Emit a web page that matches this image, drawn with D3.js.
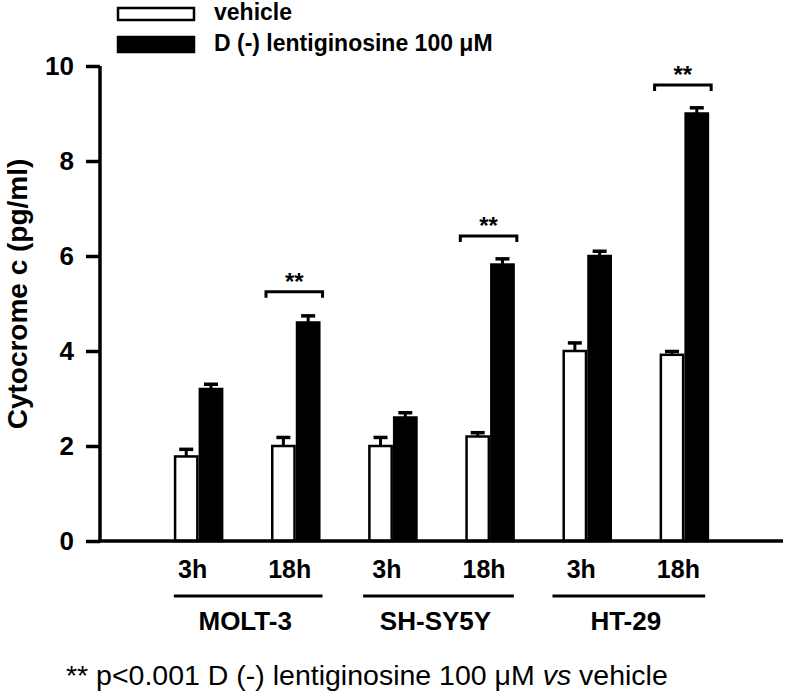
<!DOCTYPE html>
<html>
<head>
<meta charset="utf-8">
<script src="https://cdn.jsdelivr.net/npm/d3@7"></script>
<style>
  html, body { margin: 0; padding: 0; background: #fff; }
  svg { display: block; }
  text { font-family: "Liberation Sans", Arial, Helvetica, sans-serif; fill: #000; }
</style>
</head>
<body>
<svg id="chart" width="787" height="693"></svg>
<script>
// ---- data ----
const conditions = ["MOLT-3 3h", "MOLT-3 18h", "SH-SY5Y 3h", "SH-SY5Y 18h", "HT-29 3h", "HT-29 18h"];
const timeLabels = ["3h", "18h", "3h", "18h", "3h", "18h"];
const cellLines = ["MOLT-3", "SH-SY5Y", "HT-29"];
const seriesNames = ["vehicle", "D (-) lentiginosine 100 \u03bcM"];
const vehicleValues = [1.78, 2.0, 2.0, 2.2, 4.0, 3.92];
const vehicleErrors = [0.15, 0.18, 0.18, 0.08, 0.17, 0.07];
const lentiValues = [3.2, 4.6, 2.6, 5.82, 6.0, 9.0];
const lentiErrors = [0.1, 0.14, 0.1, 0.12, 0.1, 0.12];
const sigConditions = ["MOLT-3 18h", "SH-SY5Y 18h", "HT-29 18h"];
const sigLevels = [5.25, 6.42, 9.6];
const yTicks = [0, 2, 4, 6, 8, 10];

// ---- layout ----
const svg = d3.select("#chart");
const x0 = d3.scaleBand().domain(conditions).range([100, 783]).paddingInner(0.49).paddingOuter(0.76);
const x1 = d3.scaleBand().domain([0, 1]).range([0, x0.bandwidth()]).padding(0);
const y = d3.scaleLinear().domain([0, 10]).range([541, 66]);

const series = [
  { name: seriesNames[0], values: vehicleValues, errors: vehicleErrors, fill: "#fff" },
  { name: seriesNames[1], values: lentiValues, errors: lentiErrors, fill: "#000" }
];

// bars
series.forEach((s, si) => {
  const g = svg.append("g");
  conditions.forEach((c, i) => {
    const bx = x0(c) + x1(si);
    const bw = x1.bandwidth();
    const top = y(s.values[i]);
    const errTop = y(s.values[i] + s.errors[i]);
    g.append("line").attr("x1", bx + bw / 2).attr("x2", bx + bw / 2)
      .attr("y1", top).attr("y2", errTop).attr("stroke", "#000").attr("stroke-width", 3);
    g.append("line").attr("x1", bx + bw / 2 - 7).attr("x2", bx + bw / 2 + 7)
      .attr("y1", errTop).attr("y2", errTop).attr("stroke", "#000").attr("stroke-width", 3.5);
    g.append("rect").attr("x", bx + 1.25).attr("y", top)
      .attr("width", bw - 2.5).attr("height", y(0) - top)
      .attr("fill", s.fill).attr("stroke", "#000").attr("stroke-width", 2.5);
  });
});

// y axis
const yAxis = d3.axisLeft(y).tickValues(yTicks).tickSize(14).tickPadding(12).tickFormat(d3.format("d"));
const gy = svg.append("g").attr("transform", "translate(100,0)").call(yAxis);
gy.select(".domain").attr("d", `M0,${y(10)}V${y(0)}`).attr("stroke-width", 3.5);
gy.selectAll(".tick line").attr("stroke-width", 3.5);
gy.selectAll(".tick text").style("font-size", "26px").style("font-weight", "bold")
  .attr("font-family", null);

// x axis line
svg.append("line").attr("x1", 98).attr("x2", 783).attr("y1", y(0)).attr("y2", y(0))
  .attr("stroke", "#000").attr("stroke-width", 3.5);

// time labels
svg.append("g").selectAll("text").data(conditions).join("text")
  .attr("x", c => x0(c) + x0.bandwidth() / 2 - 6)
  .attr("y", 578)
  .attr("text-anchor", "middle")
  .style("font-size", "25px").style("font-weight", "bold")
  .text((c, i) => timeLabels[i]);

// cell line underline + labels
cellLines.forEach((cl, k) => {
  const a = conditions[k * 2], b = conditions[k * 2 + 1];
  const xs = x0(a) - 5 * k, xe = x0(b) + x0.bandwidth() + 2 - 3 * k;
  svg.append("line").attr("x1", xs).attr("x2", xe).attr("y1", 596).attr("y2", 596)
    .attr("stroke", "#000").attr("stroke-width", 3);
  svg.append("text").attr("x", (xs + xe) / 2 - 3).attr("y", 630)
    .attr("text-anchor", "middle").style("font-size", "26px").style("font-weight", "bold")
    .text(cl);
});

// significance brackets
sigConditions.forEach((c, k) => {
  const xs = x0(c) - 5, xe = x0(c) + x0.bandwidth() + 2;
  const yy = y(sigLevels[k]);
  svg.append("path").attr("d", `M${xs},${yy + 6}V${yy}H${xe}V${yy + 6}`)
    .attr("fill", "none").attr("stroke", "#000").attr("stroke-width", 3);
  svg.append("text").attr("x", (xs + xe) / 2).attr("y", yy - 2)
    .attr("text-anchor", "middle").style("font-size", "24px").style("font-weight", "bold")
    .text("**");
});

// y axis title
svg.append("text").attr("transform", `translate(27,${(150 + 438) / 2}) rotate(-90)`)
  .attr("text-anchor", "middle").style("font-size", "28px").style("font-weight", "bold")
  .text("Cytocrome c (pg/ml)");

// legend
const legend = svg.append("g");
series.forEach((s, i) => {
  const ly = i === 0 ? 8 : 37;
  const lh = i === 0 ? 12 : 15;
  legend.append("rect").attr("x", 118).attr("y", ly).attr("width", 76).attr("height", lh)
    .attr("fill", s.fill).attr("stroke", "#000").attr("stroke-width", 2.5);
  legend.append("text").attr("x", 214).attr("y", i === 0 ? 20 : 51)
    .style("font-size", "23px").style("font-weight", "bold").text(s.name);
});

// footnote
const foot = svg.append("text").attr("x", 66).attr("y", 685).style("font-size", "28.5px");
foot.append("tspan").text("** p<0.001 D (-) lentiginosine 100 \u03bcM ");
foot.append("tspan").style("font-style", "italic").text("vs");
foot.append("tspan").text(" vehicle");
</script>
</body>
</html>
